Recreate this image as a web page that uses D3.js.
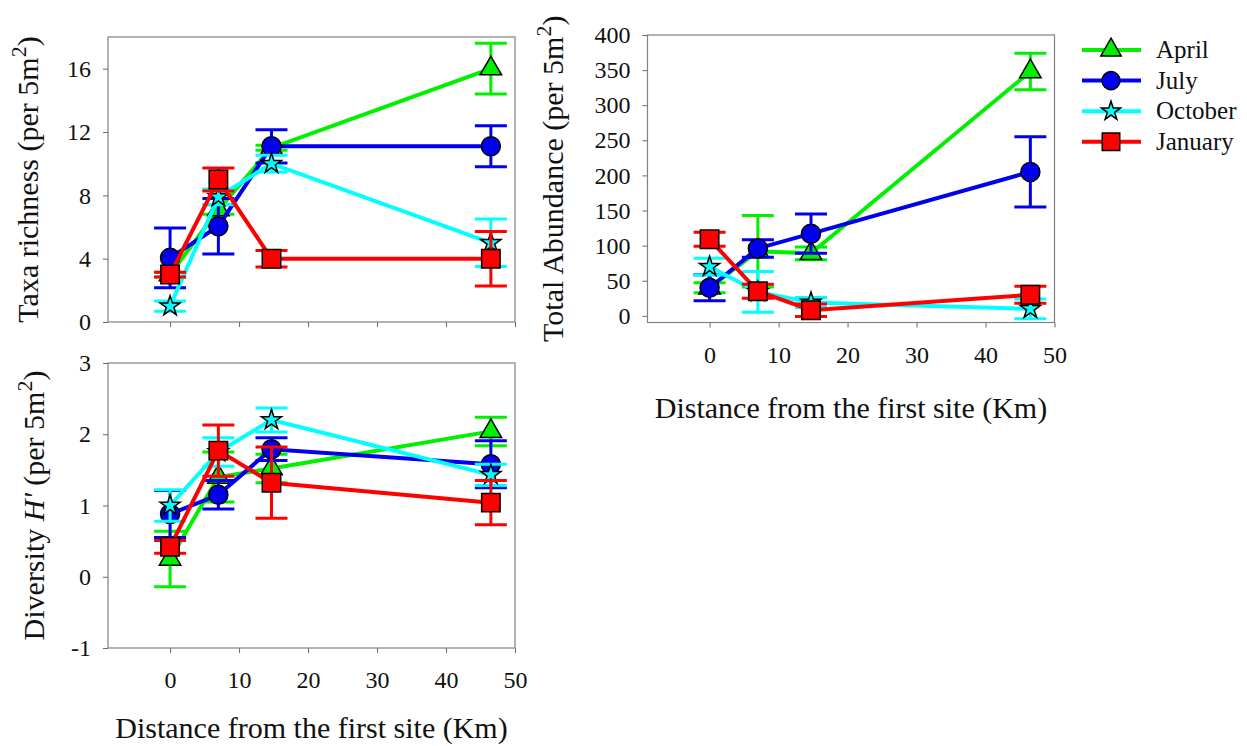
<!DOCTYPE html>
<html>
<head>
<meta charset="utf-8">
<script src="https://cdn.jsdelivr.net/npm/d3@7"></script>
<style>
  body { margin: 0; background: #fff; }
  text { font-family: "Liberation Serif", "Times New Roman", serif; fill: #111; }
</style>
</head>
<body>
<div id="chart"></div>
<script>
// distance of each site (km)
var distance = [0, 7, 14.7, 46.5];
var months = ["April", "July", "October", "January"];
var colors = ["#00f000", "#0000ee", "#00ffff", "#ff0000"];
var shapes = [d3.symbolTriangle, d3.symbolCircle, d3.symbolStar, d3.symbolSquare];
var xTicks = [0, 10, 20, 30, 40, 50];

// rows follow months order: April, July, October, January
var richnessMean = [[3.0, 7.1, 11.0, 16.0], [4.05, 6.05, 11.1, 11.1], [1.0, 7.9, 10.0, 5.0], [3.0, 9.0, 4.0, 4.0]];
var richnessErr = [[0.15, 0.3, 0.16, 1.6], [1.88, 1.75, 1.05, 1.3], [0.32, 0.5, 0.53, 1.5], [0.15, 0.72, 0.52, 1.72]];
var richnessTicks = [0, 4, 8, 12, 16];

var abundanceMean = [[40, 92, 89, 348], [40, 96, 117, 205], [70, 34, 19, 10], [109, 35, 8, 30]];
var abundanceErr = [[7, 51, 9, 26], [18.5, 12.5, 28, 50], [12, 29, 7, 14], [10, 10, 9, 12]];
var abundanceTicks = [0, 50, 100, 150, 200, 250, 300, 350, 400];

var diversityMean = [[0.25, 1.4, 1.52, 2.04], [0.88, 1.15, 1.79, 1.58], [1.0, 1.75, 2.2, 1.43], [0.42, 1.77, 1.32, 1.04]];
var diversityErr = [[0.39, 0.35, 0.2, 0.2], [0.33, 0.2, 0.16, 0.33], [0.22, 0.2, 0.17, 0.15], [0.09, 0.36, 0.5, 0.31]];
var diversityTicks = [-1, 0, 1, 2, 3];

var width = 1247, height = 746;
var serif = '"Liberation Serif", "Times New Roman", serif';

var svg = d3.select("#chart").append("svg")
    .attr("width", width)
    .attr("height", height);

svg.append("rect").attr("width", width).attr("height", height).attr("fill", "#fff");

var symSize = [200, 285, 125, 340];

// plain number, with an ascii hyphen for negatives like the original
function plain(d) { return String(d); }

function drawPanel(p) {
    var x = d3.scaleLinear().domain([-9, 50]).range([p.left, p.right]);
    var y = d3.scaleLinear().domain(p.yDomain).range([p.bottom, p.top]);

    // y axis
    var ya = svg.append("g")
        .attr("transform", "translate(" + p.left + ",0)")
        .call(d3.axisLeft(y).tickValues(p.yTicks).tickSize(5).tickPadding(12).tickFormat(plain));
    ya.attr("font-family", serif).attr("font-size", 24);
    ya.select(".domain").remove();
    ya.selectAll(".tick line").attr("stroke", "#666");
    ya.selectAll("text").attr("fill", "#111");

    // x axis
    var xa = svg.append("g")
        .attr("transform", "translate(0," + p.bottom + ")")
        .call(d3.axisBottom(x).tickValues(xTicks).tickSize(5).tickPadding(18)
            .tickFormat(p.xLabels ? plain : ""));
    xa.attr("font-family", serif).attr("font-size", 24);
    xa.select(".domain").remove();
    xa.selectAll(".tick line").attr("stroke", "#666");
    xa.selectAll("text").attr("fill", "#111");

    // frame
    svg.append("rect")
        .attr("x", p.left).attr("y", p.top)
        .attr("width", p.right - p.left).attr("height", p.bottom - p.top)
        .attr("fill", "none").attr("stroke", "#808080").attr("stroke-width", 1.2);

    var line = d3.line()
        .x(function (d, i) { return x(distance[i]); })
        .y(function (d) { return y(d); });

    months.forEach(function (m, s) {
        var g = svg.append("g");
        var mean = p.mean[s], err = p.err[s];

        // error bars
        mean.forEach(function (v, i) {
            var cx = x(distance[i]);
            g.append("line")
                .attr("x1", cx).attr("x2", cx)
                .attr("y1", y(v - err[i])).attr("y2", y(v + err[i]))
                .attr("stroke", colors[s]).attr("stroke-width", 3);
            [v - err[i], v + err[i]].forEach(function (e) {
                g.append("line")
                    .attr("x1", cx - 16).attr("x2", cx + 16)
                    .attr("y1", y(e)).attr("y2", y(e))
                    .attr("stroke", colors[s]).attr("stroke-width", 3);
            });
        });

        g.append("path")
            .attr("d", line(mean))
            .attr("fill", "none")
            .attr("stroke", colors[s])
            .attr("stroke-width", 4);

        g.selectAll("path.pt")
            .data(mean)
            .enter().append("path")
            .attr("class", "pt")
            .attr("d", d3.symbol().type(shapes[s]).size(symSize[s]))
            .attr("transform", function (d, i) {
                return "translate(" + x(distance[i]) + "," + y(d) + ")";
            })
            .attr("fill", colors[s])
            .attr("stroke", "#000")
            .attr("stroke-width", 1.5);
    });

    // y title
    var t = svg.append("text")
        .attr("text-anchor", "middle")
        .attr("transform", "translate(" + p.titleX + "," + ((p.top + p.bottom) / 2) + ")rotate(-90)")
        .style("font-size", "30px");
    p.title(t);

    if (p.xTitleY) {
        svg.append("text")
            .attr("text-anchor", "middle")
            .attr("x", (p.left + p.right) / 2)
            .attr("y", p.xTitleY)
            .style("font-size", "30px")
            .text("Distance from the first site (Km)");
    }
}

function perArea(t) {
    t.append("tspan").text(" (per 5m");
    t.append("tspan").attr("dy", -12).style("font-size", "22px").text("2");
    t.append("tspan").attr("dy", 12).text(")");
}

drawPanel({
    left: 108, right: 515, top: 37, bottom: 322,
    yDomain: [0, 18], yTicks: richnessTicks,
    mean: richnessMean, err: richnessErr,
    xLabels: false, titleX: 38,
    title: function (t) { t.append("tspan").text("Taxa richness"); perArea(t); }
});

drawPanel({
    left: 647.5, right: 1054.5, top: 35, bottom: 322.5,
    yDomain: [-9.5, 400], yTicks: abundanceTicks,
    mean: abundanceMean, err: abundanceErr,
    xLabels: true, titleX: 563, xTitleY: 418,
    title: function (t) { t.append("tspan").text("Total Abundance"); perArea(t); }
});

drawPanel({
    left: 108, right: 515, top: 363, bottom: 648,
    yDomain: [-1, 3], yTicks: diversityTicks,
    mean: diversityMean, err: diversityErr,
    xLabels: true, titleX: 44, xTitleY: 738,
    title: function (t) {
        t.append("tspan").text("Diversity ");
        t.append("tspan").style("font-style", "italic").text("H'");
        perArea(t);
    }
});

// legend
var legend = svg.append("g");
months.forEach(function (m, s) {
    var ly = 50 + s * 30.6;
    legend.append("line")
        .attr("x1", 1082).attr("x2", 1141)
        .attr("y1", ly).attr("y2", ly)
        .attr("stroke", colors[s]).attr("stroke-width", 4);
    legend.append("path")
        .attr("d", d3.symbol().type(shapes[s]).size(symSize[s] * 0.9))
        .attr("transform", "translate(1111," + ly + ")")
        .attr("fill", colors[s]).attr("stroke", "#000").attr("stroke-width", 1.5);
    legend.append("text")
        .attr("x", 1156).attr("y", ly + 8)
        .style("font-size", "25px")
        .text(m);
});
</script>
</body>
</html>
